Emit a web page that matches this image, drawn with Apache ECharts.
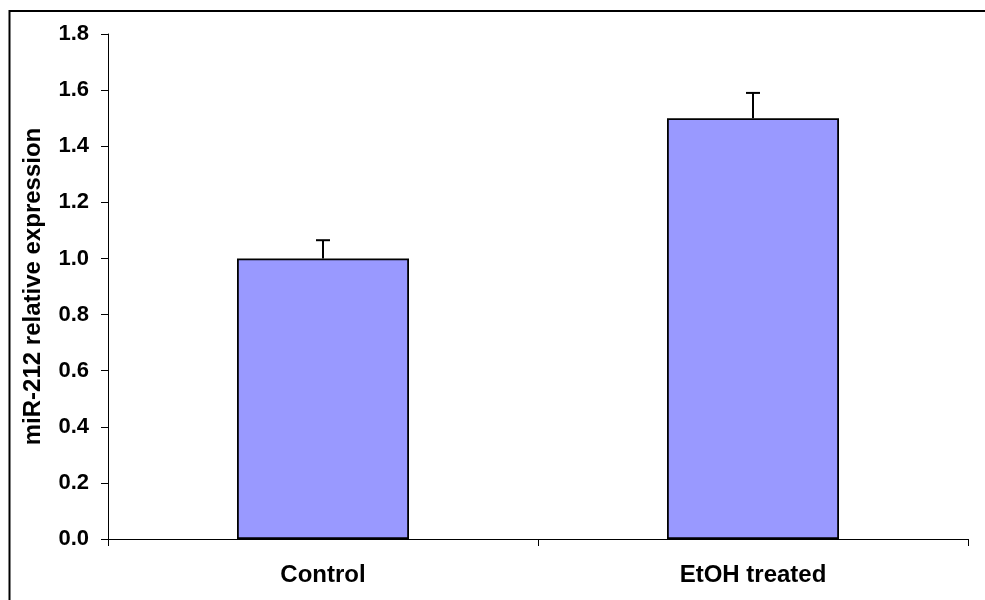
<!DOCTYPE html>
<html>
<head>
<meta charset="utf-8">
<script src="https://cdn.jsdelivr.net/npm/echarts@6/dist/echarts.min.js"></script>
<style>
html,body{margin:0;padding:0;background:#fff;}
#chart{width:985px;height:600px;}
</style>
</head>
<body>
<div id="chart"></div>
<script>
const categories = ['Control', 'EtOH treated'];
const values = [1.0, 1.5];
const errorTops = [1.065, 1.59];
const yTicks = ['0.0','0.2','0.4','0.6','0.8','1.0','1.2','1.4','1.6','1.8'];

const chart = echarts.init(document.getElementById('chart'));
const font = 'Liberation Sans, Arial, sans-serif';

chart.setOption({
  backgroundColor: '#fff',
  animation: false,
  graphic: [{
    type: 'rect',
    shape: {x: 9.5, y: 11, width: 1000, height: 700},
    style: {fill: 'none', stroke: '#000', lineWidth: 2},
    silent: true
  }],
  grid: {left: 108, right: 17, top: 34, bottom: 61},
  xAxis: {
    type: 'category',
    data: categories,
    axisLine: {lineStyle: {color: '#000', width: 1}},
    axisTick: {show: true, length: 7, lineStyle: {color: '#000'}},
    axisLabel: {color: '#000', fontFamily: font, fontWeight: 'bold', fontSize: 24, margin: 24}
  },
  yAxis: {
    type: 'value',
    min: 0, max: 1.8, interval: 0.2,
    name: 'miR-212 relative expression',
    nameLocation: 'middle',
    nameGap: 63,
    nameTextStyle: {color: '#000', fontFamily: font, fontWeight: 'bold', fontSize: 24},
    axisLine: {show: true, lineStyle: {color: '#000', width: 1}},
    axisTick: {show: true, length: 7, lineStyle: {color: '#000'}},
    splitLine: {show: false},
    axisLabel: {
      color: '#000', fontFamily: font, fontWeight: 'bold', fontSize: 22, margin: 19,
      formatter: function (v) { return yTicks[Math.round(v / 0.2)]; }
    }
  },
  series: [{
    type: 'bar',
    data: values,
    barWidth: '40%',
    itemStyle: {color: '#9999ff', borderColor: '#000', borderWidth: 1.8}
  }, {
    type: 'custom',
    data: categories.map((c, i) => [i, values[i], errorTops[i]]),
    renderItem: function (params, api) {
      const base = api.coord([api.value(0), api.value(1)]);
      const top = api.coord([api.value(0), api.value(2)]);
      const hw = 7;
      return {
        type: 'group',
        children: [
          {type: 'line', shape: {x1: base[0], y1: base[1], x2: top[0], y2: top[1]}, style: {stroke: '#000', lineWidth: 2}},
          {type: 'line', shape: {x1: top[0] - hw, y1: top[1], x2: top[0] + hw, y2: top[1]}, style: {stroke: '#000', lineWidth: 2}}
        ]
      };
    },
    z: 10
  }]
});
</script>
</body>
</html>
